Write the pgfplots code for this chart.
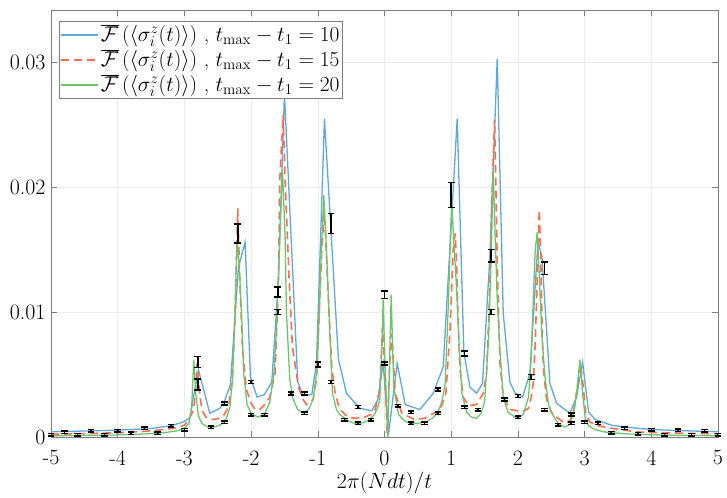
\RequirePackage{fix-cm}
\documentclass[border=0pt]{standalone}
\usepackage{pgfplots}
\pgfplotsset{compat=1.18}
\usepackage{pgfplotstable}
\definecolor{cblue}{RGB}{95,168,219}
\definecolor{cred}{RGB}{252,110,80}
\definecolor{cgreen}{RGB}{110,196,110}
\definecolor{axgray}{RGB}{125,125,125}
\newcommand{\bigf}{\fontsize{22}{26}\selectfont}
\newcommand{\legf}{\fontsize{21.5}{26}\selectfont}

\pgfplotstableread{
x y
-5.00 0.00042
-4.50 0.00048
-4.00 0.00055
-3.50 0.00068
-3.20 0.00090
-3.02 0.00120
-2.92 0.00150
-2.79 0.00540
-2.62 0.00190
-2.47 0.00230
-2.41 0.00270
-2.31 0.00420
-2.19 0.01360
-2.09 0.01560
-2.01 0.00480
-1.91 0.00320
-1.80 0.00340
-1.69 0.00440
-1.59 0.01260
-1.50 0.02750
-1.30 0.00440
-1.22 0.00330
-1.09 0.00340
-1.02 0.00590
-0.90 0.02550
-0.69 0.00620
-0.57 0.00350
-0.37 0.00230
-0.19 0.00210
-0.10 0.00300
-0.02 0.00590
0.06 0.00020
0.19 0.00590
0.31 0.00260
0.53 0.00220
0.73 0.00350
0.88 0.00560
1.09 0.02550
1.19 0.00680
1.28 0.00400
1.38 0.00350
1.47 0.00430
1.58 0.01450
1.69 0.03030
1.78 0.00990
1.88 0.00440
1.96 0.00350
2.07 0.00320
2.18 0.00510
2.30 0.01560
2.36 0.01450
2.48 0.00430
2.58 0.00270
2.78 0.00190
2.88 0.00320
2.97 0.00600
3.06 0.00200
3.16 0.00140
3.40 0.00095
3.60 0.00080
4.00 0.00060
4.50 0.00050
5.00 0.00042
}\bluedata

\pgfplotstableread{
x y
-5.00 0.00022
-4.50 0.00027
-4.00 0.00034
-3.60 0.00045
-3.30 0.00060
-3.10 0.00075
-3.00 0.00095
-2.93 0.00140
-2.86 0.00220
-2.83 0.00400
-2.81 0.00590
-2.78 0.00400
-2.74 0.00220
-2.68 0.00160
-2.57 0.00140
-2.47 0.00150
-2.40 0.00180
-2.34 0.00240
-2.28 0.00460
-2.24 0.00990
-2.20 0.01830
-2.17 0.01260
-2.13 0.00720
-2.07 0.00380
-2.00 0.00270
-1.94 0.00220
-1.87 0.00220
-1.78 0.00270
-1.72 0.00320
-1.64 0.00510
-1.59 0.01260
-1.57 0.02060
-1.52 0.02580
-1.49 0.02060
-1.43 0.01260
-1.38 0.00720
-1.29 0.00400
-1.22 0.00300
-1.17 0.00260
-1.07 0.00300
-1.02 0.00460
-0.98 0.00990
-0.94 0.01500
-0.91 0.01750
-0.89 0.01680
-0.84 0.01100
-0.79 0.00560
-0.74 0.00350
-0.67 0.00220
-0.55 0.00160
-0.44 0.00150
-0.30 0.00160
-0.20 0.00180
-0.14 0.00220
-0.07 0.00380
-0.03 0.00880
0.00 0.00600
0.04 0.00030
0.08 0.00600
0.11 0.00830
0.16 0.00350
0.26 0.00190
0.45 0.00140
0.60 0.00150
0.70 0.00180
0.83 0.00210
0.92 0.00350
0.98 0.00830
1.03 0.01500
1.06 0.01630
1.08 0.01400
1.10 0.01000
1.13 0.00550
1.18 0.00320
1.26 0.00250
1.38 0.00260
1.48 0.00350
1.53 0.00510
1.57 0.01040
1.61 0.01900
1.65 0.02540
1.67 0.02000
1.69 0.01400
1.73 0.00600
1.78 0.00320
1.88 0.00220
2.00 0.00210
2.10 0.00210
2.16 0.00230
2.20 0.00320
2.23 0.00430
2.26 0.00750
2.28 0.01100
2.32 0.01820
2.34 0.01500
2.36 0.00960
2.38 0.00560
2.43 0.00300
2.50 0.00200
2.58 0.00160
2.70 0.00110
2.78 0.00130
2.84 0.00220
2.89 0.00400
2.94 0.00590
2.98 0.00400
3.02 0.00180
3.08 0.00120
3.20 0.00090
3.40 0.00070
3.80 0.00040
4.50 0.00030
5.00 0.00025
}\reddata

\pgfplotstableread{
x y
-5.00 0.00010
-4.50 0.00013
-4.00 0.00017
-3.60 0.00024
-3.30 0.00035
-3.10 0.00050
-3.00 0.00070
-2.93 0.00110
-2.89 0.00250
-2.86 0.00620
-2.83 0.00350
-2.79 0.00170
-2.74 0.00110
-2.65 0.00080
-2.55 0.00080
-2.45 0.00100
-2.37 0.00150
-2.32 0.00230
-2.28 0.00450
-2.25 0.00850
-2.21 0.01570
-2.18 0.01400
-2.14 0.00950
-2.11 0.00500
-2.06 0.00260
-2.00 0.00190
-1.90 0.00160
-1.80 0.00180
-1.72 0.00280
-1.66 0.00500
-1.62 0.00850
-1.58 0.01450
-1.53 0.02150
-1.49 0.01600
-1.47 0.01000
-1.42 0.00460
-1.37 0.00300
-1.30 0.00220
-1.22 0.00190
-1.14 0.00220
-1.07 0.00300
-1.02 0.00510
-0.98 0.00950
-0.95 0.01450
-0.91 0.01940
-0.87 0.01500
-0.82 0.00830
-0.78 0.00350
-0.72 0.00220
-0.67 0.00180
-0.55 0.00130
-0.45 0.00110
-0.35 0.00110
-0.25 0.00130
-0.15 0.00180
-0.10 0.00240
-0.07 0.00300
-0.04 0.00700
-0.02 0.01100
0.01 0.00550
0.05 0.00000
0.08 0.00700
0.10 0.01140
0.12 0.00750
0.14 0.00400
0.21 0.00180
0.30 0.00130
0.38 0.00110
0.50 0.00110
0.62 0.00120
0.72 0.00150
0.80 0.00200
0.86 0.00280
0.91 0.00430
0.96 0.01100
0.99 0.01650
1.01 0.01870
1.04 0.01550
1.08 0.01200
1.11 0.00830
1.16 0.00350
1.23 0.00200
1.30 0.00160
1.38 0.00150
1.45 0.00190
1.50 0.00280
1.56 0.00780
1.60 0.01450
1.63 0.02140
1.66 0.01600
1.69 0.01100
1.73 0.00700
1.78 0.00320
1.85 0.00200
1.98 0.00150
2.08 0.00180
2.16 0.00320
2.20 0.00650
2.23 0.01100
2.26 0.01500
2.29 0.01640
2.32 0.01300
2.36 0.00800
2.41 0.00460
2.46 0.00260
2.51 0.00190
2.60 0.00110
2.70 0.00080
2.78 0.00100
2.84 0.00200
2.88 0.00350
2.93 0.00620
2.97 0.00350
3.01 0.00150
3.06 0.00090
3.15 0.00060
3.30 0.00040
3.60 0.00026
4.00 0.00018
4.50 0.00013
5.00 0.00010
}\greendata

\pgfplotstableread{
x y e
-5.0 0.00020 0.00010
-4.8 0.00040 0.00010
-4.6 0.00020 0.00010
-4.4 0.00050 0.00010
-4.2 0.00020 0.00010
-4.0 0.00050 0.00010
-3.8 0.00030 0.00010
-3.6 0.00070 0.00010
-3.4 0.00030 0.00010
-3.2 0.00090 0.00010
-3.0 0.00060 0.00010
-2.8 0.00600 0.00045
-2.8 0.00420 0.00045
-2.6 0.00080 0.00010
-2.4 0.00270 0.00012
-2.4 0.00120 0.00010
-2.2 0.01630 0.00075
-2.0 0.00440 0.00012
-2.0 0.00180 0.00010
-1.8 0.00180 0.00010
-1.6 0.01160 0.00040
-1.6 0.01000 0.00020
-1.4 0.00350 0.00012
-1.2 0.00350 0.00012
-1.2 0.00190 0.00010
-1.0 0.00580 0.00020
-0.8 0.01710 0.00080
-0.8 0.00440 0.00012
-0.6 0.00140 0.00010
-0.4 0.00240 0.00012
-0.4 0.00110 0.00010
-0.2 0.00140 0.00010
0.0 0.01140 0.00030
0.0 0.00590 0.00012
0.2 0.00250 0.00010
0.4 0.00200 0.00010
0.4 0.00110 0.00010
0.6 0.00110 0.00010
0.8 0.00380 0.00012
0.8 0.00190 0.00010
1.0 0.01940 0.00100
1.2 0.00670 0.00020
1.2 0.00240 0.00010
1.4 0.00220 0.00010
1.6 0.01450 0.00050
1.6 0.01000 0.00020
1.8 0.00300 0.00012
2.0 0.00330 0.00012
2.0 0.00160 0.00010
2.2 0.00480 0.00020
2.4 0.01350 0.00050
2.4 0.00220 0.00010
2.6 0.00100 0.00010
2.8 0.00180 0.00012
2.8 0.00110 0.00010
3.0 0.00120 0.00010
3.2 0.00110 0.00010
3.4 0.00035 0.00010
3.6 0.00070 0.00010
3.8 0.00025 0.00010
4.0 0.00060 0.00010
4.2 0.00020 0.00010
4.4 0.00056 0.00010
4.6 0.00020 0.00010
4.8 0.00050 0.00010
5.0 0.00020 0.00010
}\errdata

\begin{document}
\begin{tikzpicture}
\path[use as bounding box] (-51bp,-61bp) rectangle (676bp,437bp);
\begin{axis}[
  scale only axis, width=667bp, height=427bp,
  xmin=-5, xmax=5, ymin=0, ymax=0.0342,
  xtick={-5,-4,-3,-2,-1,0,1,2,3,4,5},
  xticklabels={-5,-4,-3,-2,-1,0,1,2,3,4,5},
  ytick={0,0.01,0.02,0.03},
  yticklabels={0,0.01,0.02,0.03},
  scaled y ticks=false,
  every tick label/.append style={font=\bigf},
  xticklabel style={yshift=-10bp},
  yticklabel style={xshift=-2bp},
  label style={font=\bigf},
  xlabel style={at={(axis description cs:0.5,0)}, anchor=north, yshift=-32bp},
  tick align=inside, major tick length=6bp,
  axis line style={axgray, line width=0.6pt},
  tick style={axgray, line width=0.6pt},
  grid=major, grid style={gray!15, line width=0.6pt},
  xlabel={$2\pi(Ndt)/t$},
  legend cell align=left,
  legend style={at={(axis description cs:0.012,0.974)}, anchor=north west,
    draw=axgray, fill=white, inner sep=1bp, row sep=0bp, font=\legf,
    nodes={text height=18bp, text depth=5bp, inner ysep=1bp}},
  legend image code/.code={\draw[#1, line width=1.8bp] (0bp,0bp) -- (37bp,0bp);},
]
\addplot[cblue, line width=1.3bp] table[x=x,y=y] {\bluedata};
\addlegendentry{$\overline{\mathcal{F}}\left(\langle\sigma_i^z(t)\rangle\right)$ , $t_{\mathrm{max}}-t_1=10$}
\addplot[cred, line width=1.6bp, dash pattern=on 8bp off 5bp] table[x=x,y=y] {\reddata};
\addlegendentry{$\overline{\mathcal{F}}\left(\langle\sigma_i^z(t)\rangle\right)$ , $t_{\mathrm{max}}-t_1=15$}
\addplot[cgreen, line width=1.3bp] table[x=x,y=y] {\greendata};
\addlegendentry{$\overline{\mathcal{F}}\left(\langle\sigma_i^z(t)\rangle\right)$ , $t_{\mathrm{max}}-t_1=20$}
\addplot[draw=none, forget plot,
  error bars/.cd, y dir=both, y explicit,
  error bar style={draw=black, solid, line width=1.6bp},
  error mark=none]
  table[x=x,y=y,y error=e] {\errdata};
\addplot[only marks, forget plot, mark=-, mark size=3.3bp,
  mark options={draw=black, solid, line width=1.5bp}]
  table[x=x, y expr=\thisrow{y}+\thisrow{e}] {\errdata};
\addplot[only marks, forget plot, mark=-, mark size=3.3bp,
  mark options={draw=black, solid, line width=1.5bp}]
  table[x=x, y expr=\thisrow{y}-\thisrow{e}] {\errdata};
\end{axis}
\end{tikzpicture}
\end{document}
